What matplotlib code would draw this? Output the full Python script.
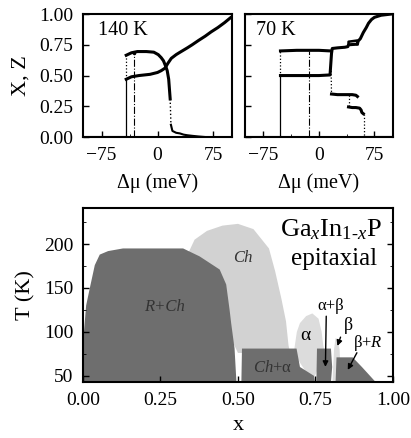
import numpy as np
import matplotlib
matplotlib.use('Agg')
import matplotlib.pyplot as plt
from matplotlib.ticker import MultipleLocator

plt.rcParams['font.family'] = ['Liberation Serif', 'DejaVu Serif']
plt.rcParams['mathtext.fontset'] = 'custom'
plt.rcParams['mathtext.rm'] = 'Liberation Serif'
plt.rcParams['mathtext.it'] = 'Liberation Serif:italic'

# --- 140 K: X (lower branch) y Z (upper branch) ---
mu_x140 = [-42, -35, -25, -10, 0, 5, 10, 14, 18.5, 25, 29, 40, 46.5, 55, 64, 72, 81, 90, 98]
x140 = [0.47, 0.49, 0.50, 0.51, 0.525, 0.54, 0.56, 0.60, 0.64, 0.67, 0.685, 0.725, 0.75, 0.785, 0.82, 0.855, 0.89, 0.93, 0.97]
mu_z140 = [-42, -35, -27, -15, -5, 1, 5, 8, 11, 13, 15, 17]
z140 = [0.665, 0.685, 0.695, 0.695, 0.69, 0.67, 0.645, 0.62, 0.575, 0.54, 0.47, 0.31]
mu_tail140 = [18, 20, 25, 30, 35, 40, 47, 55, 65]
tail140 = [0.10, 0.05, 0.035, 0.03, 0.02, 0.015, 0.01, 0.005, 0.0]
jump140 = -42      # salto solido / punteado
back140 = -32      # linea de rayas y puntos

# --- 70 K ---
mu_x70 = [-52, -30, 0, 15, 17, 18, 25, 35, 39, 40, 52, 53, 56, 60, 64, 67, 71, 75, 84, 98]
x70 = [0.50, 0.50, 0.50, 0.505, 0.68, 0.72, 0.725, 0.73, 0.735, 0.75, 0.755, 0.78, 0.80, 0.85, 0.89, 0.925, 0.955, 0.973, 0.99, 1.0]
mu_loop70 = [40, 40, 52, 52]
loop70 = [0.75, 0.775, 0.785, 0.755]
mu_z70 = [-52, -30, 0, 16]
z70 = [0.70, 0.705, 0.705, 0.70]
mu_za70 = [17, 25, 35, 45, 50, 52]
za70 = [0.35, 0.345, 0.345, 0.345, 0.34, 0.33]
mu_zb70 = [40, 45, 50, 55, 57, 58, 60]
zb70 = [0.245, 0.24, 0.24, 0.235, 0.22, 0.20, 0.19]
jump70 = -52
back70 = -13.5

# --- diagrama de fases (x, T) ---
rch_x = [0.0, 0.003, 0.01, 0.022, 0.038, 0.054, 0.081, 0.129, 0.323, 0.376, 0.441, 0.462, 0.473, 0.478, 0.489, 0.495]
rch_T = [43, 100, 130, 150, 176, 188, 192, 195, 195, 186, 171, 154, 125, 110, 81, 43]
ch_x = [0.40, 0.34, 0.36, 0.40, 0.45, 0.50, 0.55, 0.60, 0.62, 0.64, 0.655, 0.663, 0.668, 0.50]
ch_T = [150, 190, 205, 215, 221, 223, 217, 195, 169, 138, 112, 85, 76, 76]
alpha_x = [0.68, 0.69, 0.70, 0.72, 0.74, 0.76, 0.77, 0.775, 0.78, 0.74]
alpha_T = [76, 100, 110, 118, 121, 115, 100, 85, 76, 43]
beta_x = [0.805, 0.81, 0.815, 0.82, 0.828, 0.832]
beta_T = [43, 80, 93, 92, 80, 43]
cha_x = [0.511, 0.513, 0.689, 0.70, 0.745, 0.748]
cha_T = [43, 81, 81, 60, 50, 43]
ab_x = [0.753, 0.755, 0.80, 0.804, 0.80]
ab_T = [43, 81, 81, 60, 43]
br_x = [0.815, 0.818, 0.87, 0.90, 0.944]
br_T = [43, 71, 71, 60, 43]

dark = '#6e6e6e'
light = '#d2d2d2'
lighter = '#dcdcdc'

fig = plt.figure(figsize=(4.11, 4.38), dpi=100)
ax1 = fig.add_axes([0.202, 0.687, 0.3625, 0.281])
ax2 = fig.add_axes([0.596, 0.687, 0.360, 0.281])
ax3 = fig.add_axes([0.202, 0.128, 0.754, 0.397])

# Panel 140 K
ax1.plot([-100, jump140], [0, 0], 'k', lw=2.2)
ax1.plot([jump140, jump140], [0, x140[0]], 'k', lw=0.9)
ax1.plot([jump140, jump140], [x140[0], z140[0]], 'k:', lw=0.9)
ax1.plot([back140, back140], [0, z140[1]], 'k-.', lw=0.8, marker='.', markersize=3, markevery=[1])
ax1.plot(mu_x140, x140, 'k', lw=2.2)
ax1.plot(mu_z140, z140, 'k', lw=2.2)
ax1.plot([17, 18], [0.31, 0.10], 'k:', lw=1)
ax1.plot(mu_tail140, tail140, 'k', lw=1.5)
ax1.text(-80, 0.87, '140 K', fontsize=14.5, va='center')

# Panel 70 K
ax2.plot([-100, jump70], [0, 0], 'k', lw=2.2)
ax2.plot([jump70, jump70], [0, x70[0]], 'k', lw=0.9)
ax2.plot([jump70, jump70], [x70[0], z70[0]], 'k:', lw=0.9)
ax2.plot([back70, back70], [0, z70[0]], 'k-.', lw=0.8)
ax2.plot(mu_x70, x70, 'k', lw=2.2)
ax2.plot(mu_loop70, loop70, 'k', lw=1.8)
ax2.plot(mu_z70, z70, 'k', lw=2.2)
ax2.plot([16, 17], [z70[-1], za70[0]], 'k:', lw=0.9)
ax2.plot(mu_za70, za70, 'k', lw=2.2)
ax2.plot([40, 40], [za70[2], zb70[0]], 'k:', lw=0.9)
ax2.plot(mu_zb70, zb70, 'k', lw=2.2)
ax2.plot([61, 61], [zb70[-1], 0], 'k:', lw=0.9)
ax2.plot([61, 100], [0, 0], 'k', lw=1.5)
ax2.text(-85, 0.87, '70 K', fontsize=14.5, va='center')

for ax in (ax1, ax2):
    ax.set_xlim(-100, 100)
    ax.set_ylim(0, 1)
    ax.xaxis.set_major_locator(MultipleLocator(75))
    ax.xaxis.set_minor_locator(MultipleLocator(37.5))
    ax.yaxis.set_major_locator(MultipleLocator(0.25))
    ax.tick_params(direction='in', labelsize=14, pad=7, length=4, width=1)
    ax.tick_params(which='minor', direction='in', length=2.5)
    ax.set_xlabel('Δμ (meV)', fontsize=14.5, labelpad=7)
    for s in ax.spines.values():
        s.set_linewidth(1.5)
ax1.yaxis.set_major_formatter(plt.FormatStrFormatter('%.2f'))
ax1.set_ylabel('X, Z', fontsize=16, labelpad=6)
ax2.set_yticklabels([])

# Diagrama de fases
ax3.fill(ch_x, ch_T, color=light, lw=0)
ax3.fill(alpha_x, alpha_T, color=lighter, lw=0)
ax3.fill(beta_x, beta_T, color=lighter, lw=0)
for px, pT in [(rch_x, rch_T), (cha_x, cha_T), (ab_x, ab_T), (br_x, br_T)]:
    ax3.fill(px, pT, color=dark, lw=0)

ax3.text(0.262, 128, 'R+Ch', fontsize=12, style='italic', ha='center', va='center', color='#333333')
ax3.text(0.515, 184, 'Ch', fontsize=12, style='italic', ha='center', va='center', color='#333333')
ax3.text(0.612, 59, '$Ch$+α', fontsize=12, ha='center', va='center', color='#333333')
ax3.text(0.718, 96, 'α', fontsize=14, ha='center', va='center')
ax3.text(0.80, 130, 'α+β', fontsize=12, ha='center', va='center')
ax3.text(0.856, 107, 'β', fontsize=13, ha='center', va='center')
ax3.text(0.918, 87, 'β+$R$', fontsize=12, ha='center', va='center')
ax3.annotate('', xy=(0.782, 57), xytext=(0.785, 121),
             arrowprops=dict(arrowstyle='-|>', color='k', lw=1, mutation_scale=8))
ax3.annotate('', xy=(0.818, 81), xytext=(0.834, 97),
             arrowprops=dict(arrowstyle='-|>', color='k', lw=1, mutation_scale=8))
ax3.annotate('', xy=(0.85, 54), xytext=(0.888, 79),
             arrowprops=dict(arrowstyle='-|>', color='k', lw=1, mutation_scale=8))
ax3.text(0.80, 216, r'Ga$_{x}$In$_{\mathit{1\text{-}x}}$P', fontsize=19, ha='center', va='center')
ax3.text(0.81, 183, 'epitaxial', fontsize=18, ha='center', va='center')

ax3.set_xlim(0, 1)
ax3.set_ylim(43, 241)
ax3.xaxis.set_major_locator(MultipleLocator(0.25))
ax3.xaxis.set_major_formatter(plt.FormatStrFormatter('%.2f'))
ax3.yaxis.set_major_locator(MultipleLocator(50))
ax3.yaxis.set_minor_locator(MultipleLocator(25))
ax3.tick_params(direction='in', labelsize=14, pad=7, length=4, width=1, right=True)
ax3.tick_params(which='minor', direction='in', length=2.5, right=True)
ax3.set_xlabel('x', fontsize=16, labelpad=5)
ax3.set_ylabel('T (K)', fontsize=16, labelpad=6)
for s in ax3.spines.values():
    s.set_linewidth(1.5)

fig.savefig('out.png', dpi=100)
